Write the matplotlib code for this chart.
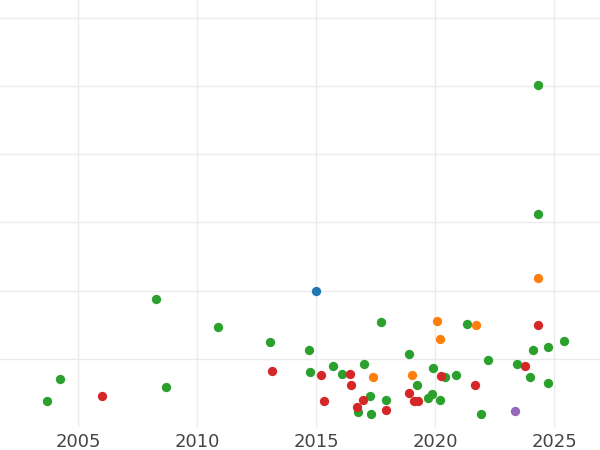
import matplotlib
matplotlib.use("Agg")
import matplotlib.pyplot as plt

green_x = [2003.70,2004.24,2008.28,2008.70,2010.88,2013.07,2014.71,2014.75,2015.71,2016.09,2016.76,2017.02,2017.27,2017.31,2017.73,2017.94,2018.91,2019.24,2019.71,2019.92,2019.87,2020.21,2020.42,2020.88,2021.34,2021.93,2022.23,2023.45,2023.99,2024.12,2024.33,2024.33,2024.75,2024.75,2025.42]
green_y = [0.38,0.71,1.87,0.59,1.47,1.25,1.13,0.81,0.90,0.78,0.22,0.93,0.46,0.19,1.54,0.40,1.07,0.62,0.43,0.87,0.49,0.40,0.74,0.76,1.51,0.19,0.99,0.93,0.74,1.13,5.01,3.13,1.18,0.65,1.26]
red_x = [2006.0,2013.16,2015.21,2015.34,2016.43,2016.47,2016.72,2016.97,2017.94,2018.91,2019.12,2019.29,2020.25,2021.68,2023.78,2024.33]
red_y = [0.46,0.82,0.76,0.38,0.78,0.62,0.29,0.40,0.25,0.50,0.38,0.38,0.75,0.62,0.90,1.50]
orange_x = [2017.39,2019.03,2020.08,2020.21,2021.72,2024.33]
orange_y = [0.74,0.76,1.56,1.29,1.50,2.19]
blue_x = [2015.0]
blue_y = [2.0]
purple_x = [2023.36]
purple_y = [0.24]

fig = plt.figure(figsize=(6, 4.5), dpi=100)
ax = fig.add_axes([0, 0.051, 1, 0.949])
for xs, ys, c in [(green_x, green_y, "#2ca02c"), (red_x, red_y, "#d62728"),
                  (orange_x, orange_y, "#ff7f0e"), (blue_x, blue_y, "#1f77b4"),
                  (purple_x, purple_y, "#9467bd")]:
    ax.scatter(xs, ys, s=45, color=c, zorder=3, linewidths=0)
ax.set_xlim(2001.72, 2026.93)
ax.set_ylim(0, 6.26)
ax.set_xticks([2005, 2010, 2015, 2020, 2025])
ax.set_yticks([1, 2, 3, 4, 5, 6])
ax.set_yticklabels([])
ax.grid(True, color="#ebebeb", linewidth=1)
ax.set_axisbelow(True)
for s in ax.spines.values():
    s.set_visible(False)
ax.tick_params(length=0, labelsize=13, labelcolor="#444444", pad=4)
fig.savefig("out.png")
